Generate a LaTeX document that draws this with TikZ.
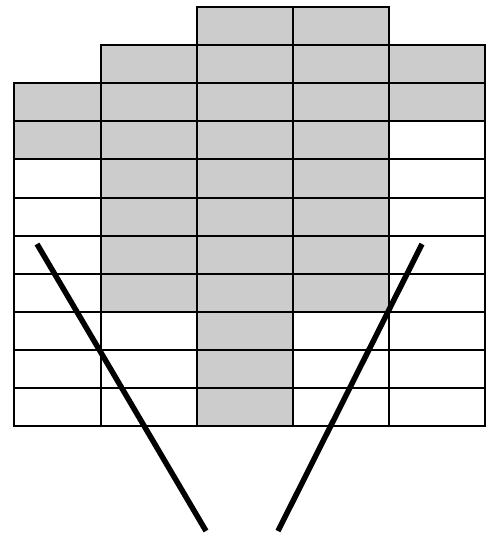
\documentclass[tikz,border=0pt]{standalone}
\definecolor{cellgray}{HTML}{CCCCCC}
\tikzset{
  cellg/.style={draw=black, line width=2pt, fill=cellgray},
  cellw/.style={draw=black, line width=2pt, fill=white},
  bar/.style={draw=black, line width=5.5pt}
}
\newcommand{\gcell}[4]{\path[#4] (#1,{7+#3*38.1}) rectangle (#2,{7+(#3+1)*38.1});}
\begin{document}
\begin{tikzpicture}[x=1pt,y=-1pt]
\useasboundingbox (0,0) rectangle (488,535);
% row 0
\gcell{197}{293}{0}{cellg}\gcell{293}{389}{0}{cellg}
% row 1
\gcell{101}{197}{1}{cellg}\gcell{197}{293}{1}{cellg}\gcell{293}{389}{1}{cellg}\gcell{389}{485}{1}{cellg}
% row 2
\gcell{14}{101}{2}{cellg}\gcell{101}{197}{2}{cellg}\gcell{197}{293}{2}{cellg}\gcell{293}{389}{2}{cellg}\gcell{389}{485}{2}{cellg}
% row 3
\gcell{14}{101}{3}{cellg}\gcell{101}{197}{3}{cellg}\gcell{197}{293}{3}{cellg}\gcell{293}{389}{3}{cellg}\gcell{389}{485}{3}{cellw}
% rows 4-7
\foreach \r in {4,5,6,7}{
  \gcell{14}{101}{\r}{cellw}\gcell{101}{197}{\r}{cellg}\gcell{197}{293}{\r}{cellg}\gcell{293}{389}{\r}{cellg}\gcell{389}{485}{\r}{cellw}
}
% rows 8-10
\foreach \r in {8,9,10}{
  \gcell{14}{101}{\r}{cellw}\gcell{101}{197}{\r}{cellw}\gcell{197}{293}{\r}{cellg}\gcell{293}{389}{\r}{cellw}\gcell{389}{485}{\r}{cellw}
}
% diagonal bars
\coordinate (l1) at (37,244);
\coordinate (l2) at (206,531);
\coordinate (r1) at (422,244);
\coordinate (r2) at (278,531);
\draw[bar] (l1) -- (l2);
\draw[bar] (r1) -- (r2);
\end{tikzpicture}
\end{document}
